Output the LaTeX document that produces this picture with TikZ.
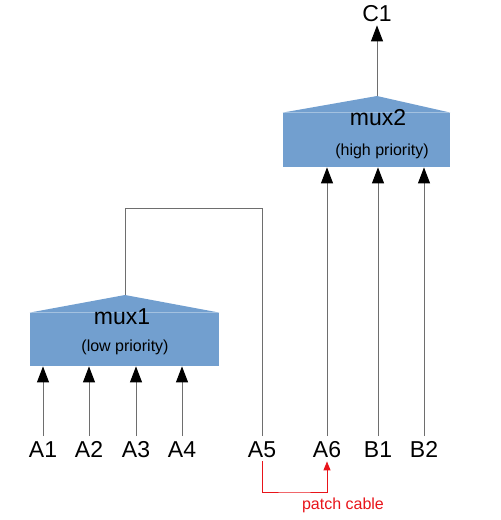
\documentclass[tikz,border=0pt]{standalone}
\usepackage{fontspec}
\setmainfont{Liberation Sans}
\usepackage{tikz}
\usetikzlibrary{arrows.meta,positioning,calc}
\definecolor{muxblue}{HTML}{729FCF}
\definecolor{wiregray}{HTML}{6E6E6E}
\definecolor{patchred}{HTML}{E8141A}
\tikzset{
  muxbody/.style={fill=muxblue,inner sep=0pt},
  pinlabel/.style={font=\fontsize{11.5}{13}\selectfont,inner sep=2pt,
                   text height=8.3pt,text depth=0pt,anchor=base},
  muxtitle/.style={font=\fontsize{11.5}{13}\selectfont,inner sep=0pt},
  muxnote/.style={font=\fontsize{8}{9}\selectfont,inner sep=0pt},
  wire/.style={line width=0.5pt,wiregray},
  inarrow/.style={-{Triangle[length=8pt,width=6pt,color=black]},
                  line width=0.5pt,wiregray},
  patcharrow/.style={-{Triangle[length=4.5pt,width=3.5pt]},
                     line width=0.5pt,patchred},
}

\begin{document}
\begin{tikzpicture}[x=0.5pt,y=-0.5pt]
  \useasboundingbox (0,0) rectangle (500,520);

  % ---- Multiplexers ----
  \node[muxbody,minimum width=83.5pt,minimum height=27pt]
    (mux2)at(366.5,140){};
  \fill[muxblue](mux2.north west) -- (377,96) coordinate(mux2apex)
    -- (mux2.north east) -- cycle;
  \node[muxtitle] at(378,118){mux2};
  \node[muxnote] at(382,151){(high priority)};

  \node[muxbody,minimum width=94.5pt,minimum height=26.5pt]
    (mux1)at(124.5,339.5){};
  \fill[muxblue](mux1.north west) -- (125,295) coordinate(mux1apex)
    -- (mux1.north east) -- cycle;
  \node[muxtitle] at(122,317){mux1};
  \node[muxnote] at(125,347){(low priority)};

  % ---- Pin labels ----
  \node[pinlabel] (C1)at(377,21){C1};
  \node[pinlabel] (A1)at(43,457){A1};
  \node[pinlabel] (A2)at(89,457){A2};
  \node[pinlabel] (A3)at(136,457){A3};
  \node[pinlabel] (A4)at(182,457){A4};
  \node[pinlabel] (A5)at(262,457){A5};
  \node[pinlabel] (A6)at(327,457){A6};
  \node[pinlabel] (B1)at(378,457){B1};
  \node[pinlabel] (B2)at(424,457){B2};

  % ---- Inputs into the multiplexers ----
  \foreach \pin in {A1,A2,A3,A4}
    \draw[inarrow](\pin.north) -- (\pin.north |- mux1.south);
  \foreach \pin in {A6,B1,B2}
    \draw[inarrow](\pin.north) -- (\pin.north |- mux2.south);
  \draw[inarrow](mux2apex) -- (C1.south);

  % ---- mux1 output loops back to A5 ----
  \coordinate (loopleft) at(125,208);
  \draw[wire](A5.north) |- (loopleft) -- (mux1apex);

  % ---- Patch cable A5 -> A6 ----
  \coordinate (patchlow) at(294,492);
  \draw[patcharrow](A5.south) |- (patchlow) -| (A6.south);
  \node[muxnote,patchred] (patch)at(343,505){patch cable};
\end{tikzpicture}
\end{document}
